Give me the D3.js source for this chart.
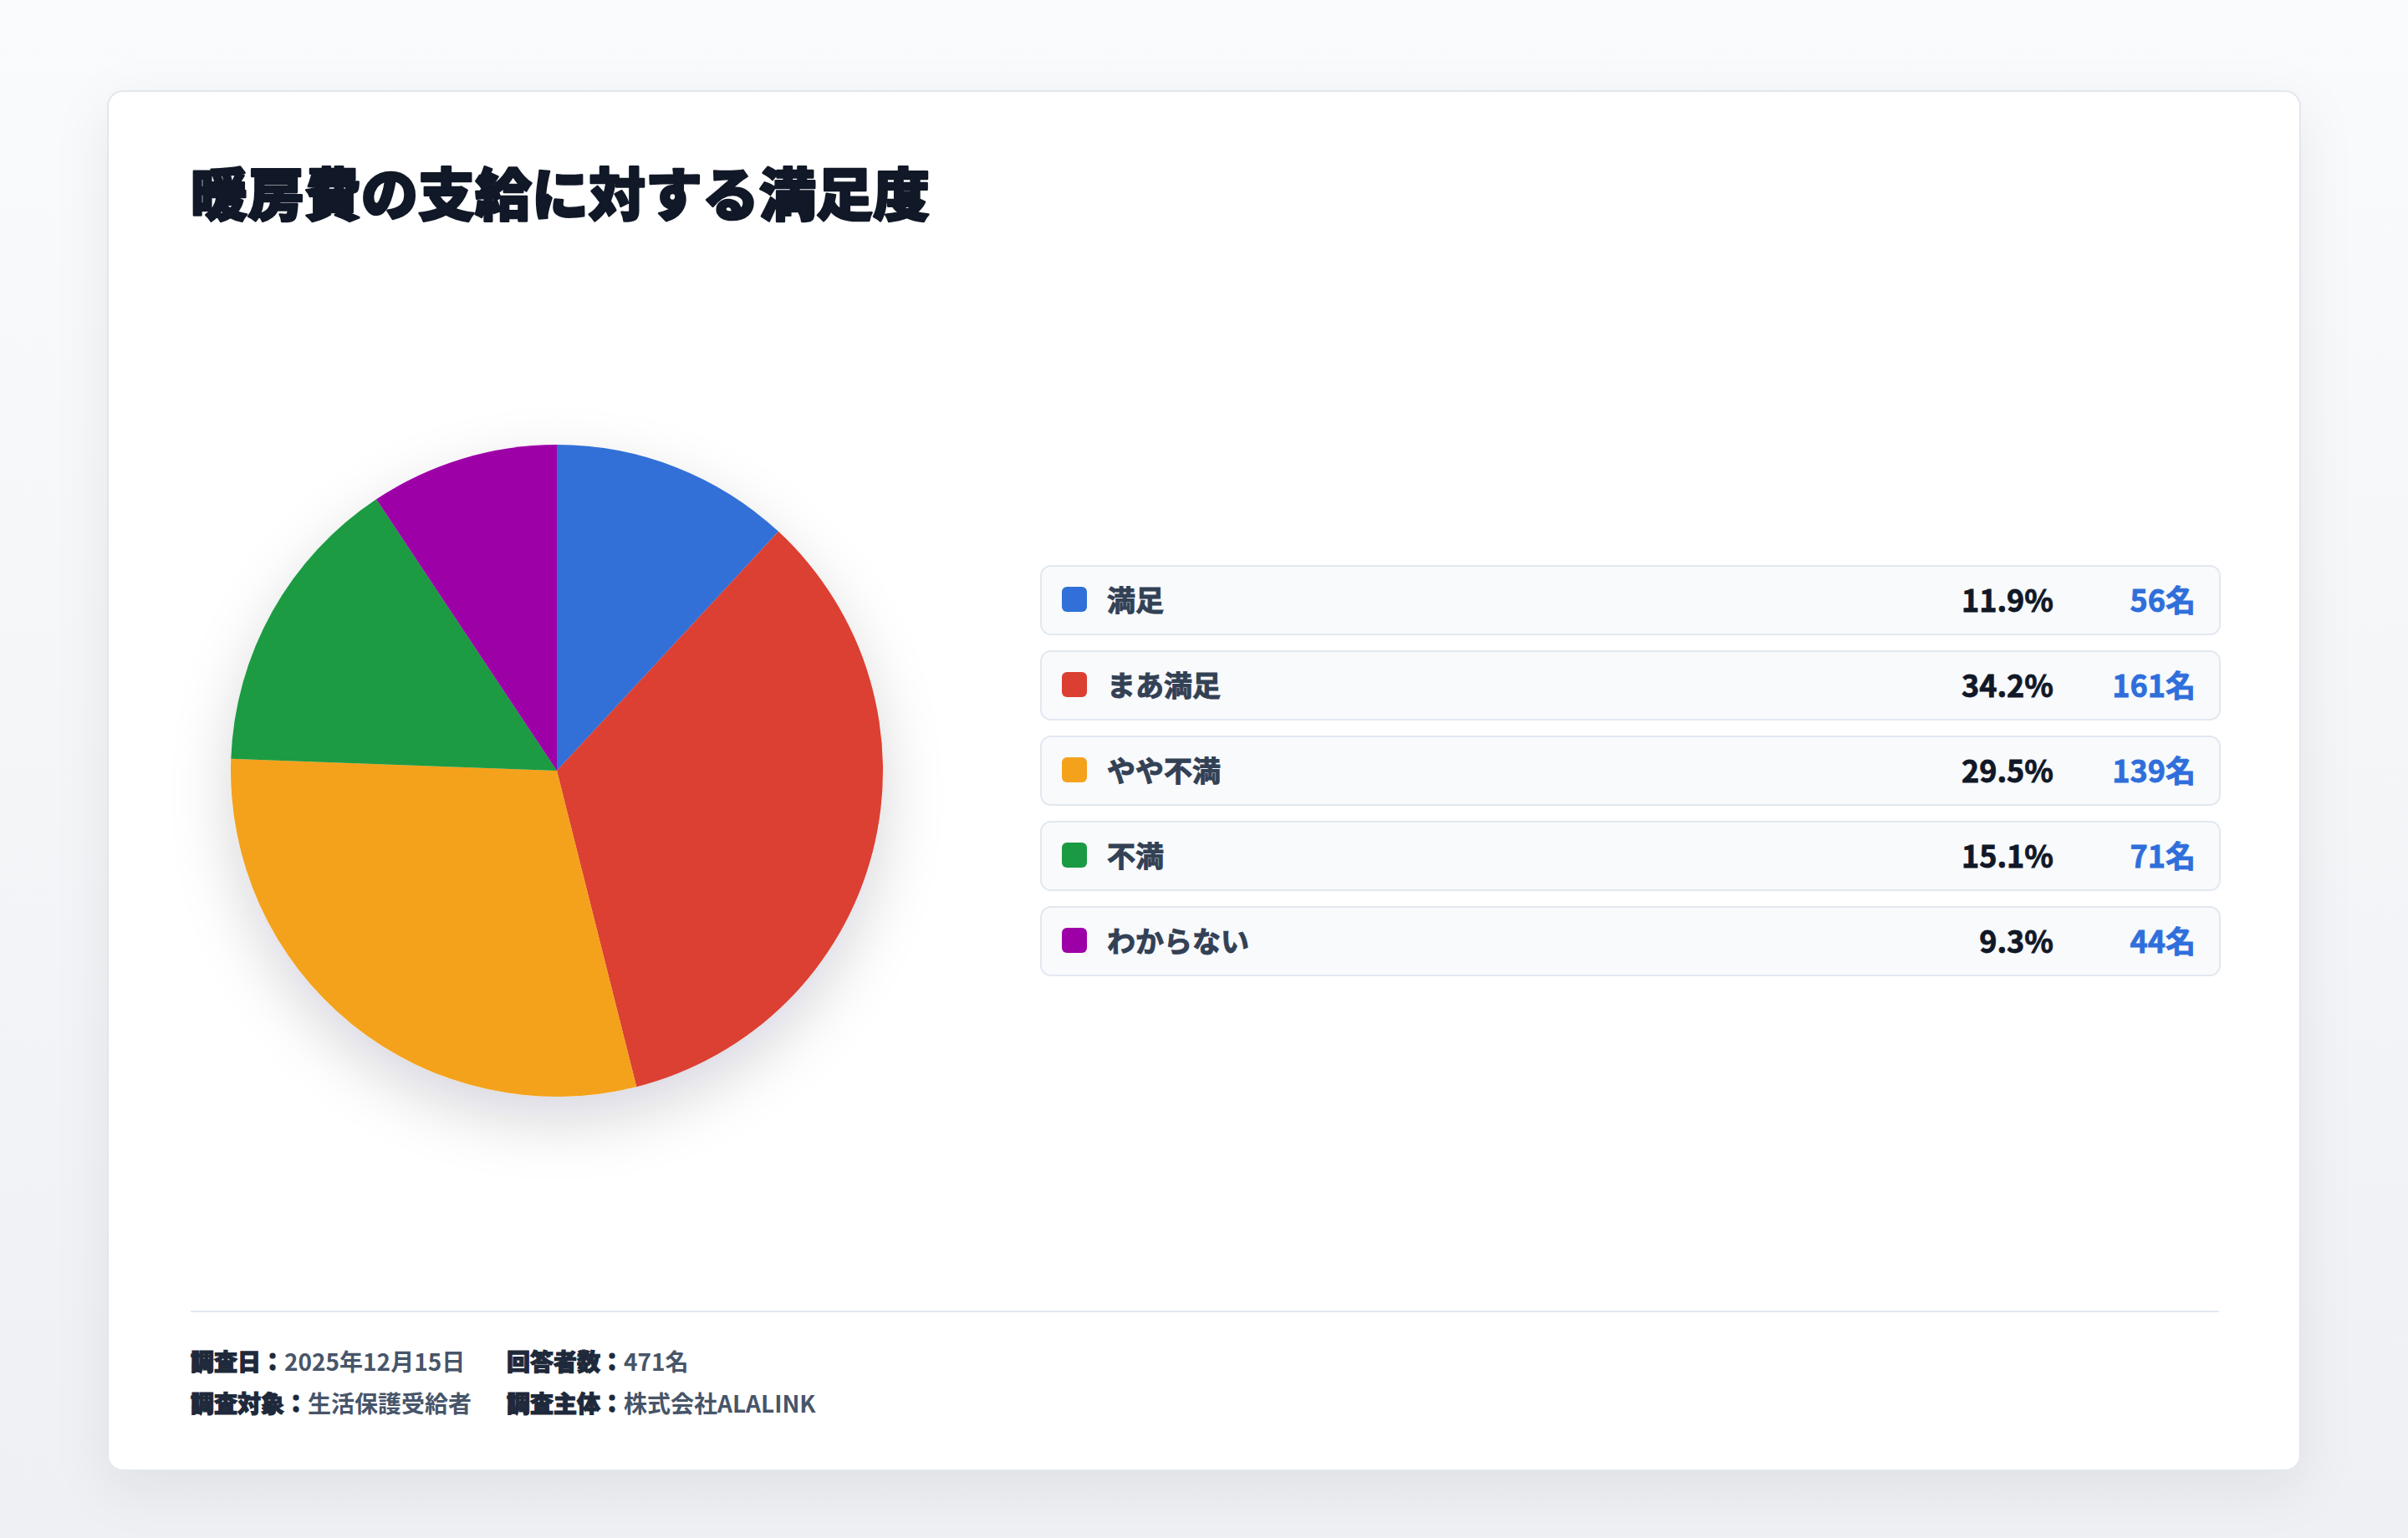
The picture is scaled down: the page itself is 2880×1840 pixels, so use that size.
<!DOCTYPE html>
<html lang="ja">
<head>
<meta charset="utf-8">
<title>暖房費の支給に対する満足度</title>
<script src="https://cdn.jsdelivr.net/npm/d3@7"></script>
<style>
  html, body { margin: 0; padding: 0; width: 100%; height: 100%; overflow: hidden; }
  body { background: linear-gradient(180deg, #fafbfc 0%, #eef0f4 100%); }
  #chart { display: block; width: 100vw; height: 100vh; }
  text { font-family: "Noto Sans CJK JP", "Noto Sans", sans-serif; }
</style>
</head>
<body>
<svg id="chart"></svg>
<script>
// データ
const title = "暖房費の支給に対する満足度";
const categories = ["満足", "まあ満足", "やや不満", "不満", "わからない"];
const counts = [56, 161, 139, 71, 44];
const percentLabels = ["11.9%", "34.2%", "29.5%", "15.1%", "9.3%"];
const colors = ["#3070d8", "#db3f31", "#f4a21c", "#1a9b43", "#9e00a8"];
const footerLabels = [["調査日：", "2025年12月15日"], ["回答者数：", "471名"],
                      ["調査対象：", "生活保護受給者"], ["調査主体：", "株式会社ALALINK"]];

// 全体は1440x920の座標で描き、viewBoxで拡大する
const W = 1440, H = 920;
const svg = d3.select("#chart")
    .attr("viewBox", `0 0 ${W} ${H}`)
    .attr("preserveAspectRatio", "xMidYMid meet");

const defs = svg.append("defs");
const cardShadow = defs.append("filter").attr("id", "cardShadow")
    .attr("x", "-10%").attr("y", "-10%").attr("width", "120%").attr("height", "130%");
cardShadow.append("feDropShadow")
    .attr("dx", 0).attr("dy", 10).attr("stdDeviation", 16)
    .attr("flood-color", "#0f172a").attr("flood-opacity", 0.07);

const pieShadow = defs.append("filter").attr("id", "pieShadow")
    .attr("x", "-30%").attr("y", "-30%").attr("width", "160%").attr("height", "170%");
pieShadow.append("feDropShadow")
    .attr("dx", 0).attr("dy", 14).attr("stdDeviation", 18)
    .attr("flood-color", "#0f172a").attr("flood-opacity", 0.16);

// カード
const card = { x: 64, y: 54, w: 1311, h: 825 };
svg.append("rect")
    .attr("x", card.x + 0.5).attr("y", card.y + 0.5)
    .attr("width", card.w).attr("height", card.h)
    .attr("rx", 9)
    .attr("fill", "#fff")
    .attr("stroke", "#e3e7ec")
    .attr("filter", "url(#cardShadow)");

const left = 114, right = 1327;

// タイトル（極太に見せるため同色の線を重ねる）
svg.append("text")
    .attr("x", left).attr("y", 114)
    .attr("dominant-baseline", "central")
    .attr("font-size", 34)
    .attr("font-weight", 900)
    .attr("fill", "#111827")
    .attr("stroke", "#111827")
    .attr("stroke-width", 1.3)
    .attr("stroke-linejoin", "round")
    .text(title);

// 円グラフ
const cx = 333, cy = 461, radius = 195;
const pie = d3.pie().sort(null).value(d => d)(counts);
const arc = d3.arc().innerRadius(0).outerRadius(radius);

const pieG = svg.append("g")
    .attr("transform", `translate(${cx},${cy})`)
    .attr("filter", "url(#pieShadow)");
pieG.selectAll("path")
    .data(pie)
    .join("path")
    .attr("d", arc)
    .attr("fill", (d, i) => colors[i]);

// 凡例
const rowX = 622, rowW = 705;
const rowY = d3.scaleBand()
    .domain(categories)
    .range([338, 338 + 51 * categories.length - 10])
    .paddingInner(10 / 51);
const mid = rowY.bandwidth() / 2 - 0.5;

const rows = svg.selectAll(".row")
    .data(categories)
    .join("g")
    .attr("class", "row")
    .attr("transform", d => `translate(${rowX},${rowY(d)})`);

rows.append("rect")
    .attr("x", 0.5).attr("y", 0.5)
    .attr("width", rowW).attr("height", rowY.bandwidth())
    .attr("rx", 6)
    .attr("fill", "#f8fafc")
    .attr("stroke", "#e2e8f0");

rows.append("rect")
    .attr("x", 13).attr("y", rowY.bandwidth() / 2 - 7.5)
    .attr("width", 15).attr("height", 15)
    .attr("rx", 3)
    .attr("fill", (d, i) => colors[i]);

rows.append("text")
    .attr("x", 40).attr("y", mid)
    .attr("dominant-baseline", "central")
    .attr("font-size", 17).attr("font-weight", 700)
    .attr("fill", "#334155")
    .attr("stroke", "#334155").attr("stroke-width", 0.5)
    .text(d => d);

rows.append("text")
    .attr("x", 606).attr("y", mid)
    .attr("dominant-baseline", "central")
    .attr("text-anchor", "end")
    .attr("font-size", 18).attr("font-weight", 700)
    .attr("fill", "#111827")
    .attr("stroke", "#111827").attr("stroke-width", 0.4)
    .text((d, i) => percentLabels[i]);

rows.append("text")
    .attr("x", 691).attr("y", mid)
    .attr("dominant-baseline", "central")
    .attr("text-anchor", "end")
    .attr("font-size", 18).attr("font-weight", 700)
    .attr("fill", "#2f6fdb")
    .attr("stroke", "#2f6fdb").attr("stroke-width", 0.4)
    .text((d, i) => counts[i] + "名");

// フッター
svg.append("line")
    .attr("x1", left).attr("x2", right)
    .attr("y1", 784.5).attr("y2", 784.5)
    .attr("stroke", "#e2e8f0");

const footCols = [left, 303];
const footRows = [814, 839];
footerLabels.forEach((f, i) => {
    const t = svg.append("text")
        .attr("x", footCols[i % 2]).attr("y", footRows[Math.floor(i / 2)])
        .attr("dominant-baseline", "central")
        .attr("font-size", 14);
    t.append("tspan").attr("font-weight", 900).attr("fill", "#1e293b")
        .attr("stroke", "#1e293b").attr("stroke-width", 0.6).text(f[0]);
    t.append("tspan").attr("font-weight", 700).attr("fill", "#475569").text(f[1]);
});
</script>
</body>
</html>
